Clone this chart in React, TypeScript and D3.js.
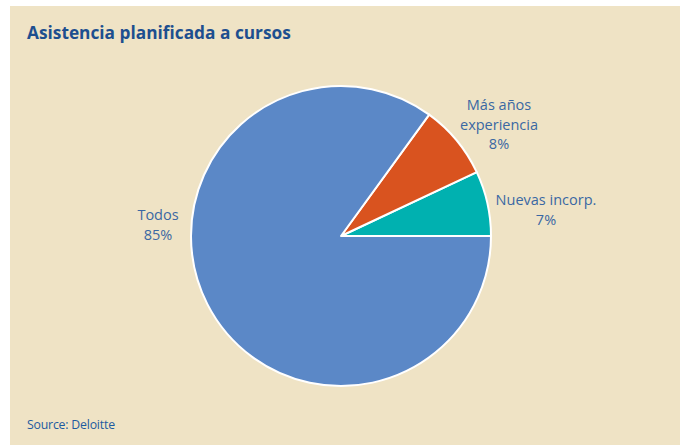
import React from 'react';
import * as d3 from 'd3';

const categories = ['Nuevas incorp.', 'Más años experiencia', 'Todos'];
const values = [7, 8, 85];
const colors = ['#00b1b0', '#d9531f', '#5b88c7'];
const labelLines = [['Nuevas incorp.', '7%'], ['Más años', 'experiencia', '8%'], ['Todos', '85%']];
const labelPos = [[546, 205], [499, 110], [158, 220]];

const W = 680;
const H = 445;
const cx = 341;
const cy = 236;
const radius = 150;

const App = () => {
  const pie = d3.pie<number>()
    .sort(null)
    .startAngle(Math.PI / 2)
    .endAngle(Math.PI / 2 - 2 * Math.PI);
  const arcs = pie(values);
  const arc = d3.arc<d3.PieArcDatum<number>>().innerRadius(0).outerRadius(radius);

  return (
    <svg width={W} height={H} style={{ position: 'absolute', left: 0, top: 0 }}>
      <rect x={10} y={6} width={W - 10} height={H - 6} fill="#efe3c5" />
      <text x={27} y={39} fill="#1d4f8f" fontFamily="'Open Sans', sans-serif" fontWeight="bold" fontSize={17.3}>
        Asistencia planificada a cursos
      </text>
      <g transform={`translate(${cx},${cy})`}>
        {arcs.map((a, i) => (
          <path key={categories[i]} d={arc(a) || ''} fill={colors[i]} stroke="#ffffff" strokeWidth={2} strokeLinejoin="round" />
        ))}
      </g>
      {labelLines.map((lines, i) => (
        <text key={categories[i]} x={labelPos[i][0]} y={labelPos[i][1]} textAnchor="middle"
          fill="#3a68a3" fontFamily="'Open Sans', sans-serif" fontSize={14.5}>
          {lines.map((l, j) => (
            <tspan key={j} x={labelPos[i][0]} dy={j === 0 ? 0 : 19.5}>{l}</tspan>
          ))}
        </text>
      ))}
      <text x={27} y={429} fill="#1d5aa0" fontFamily="'Open Sans', sans-serif" fontSize={12.3} letterSpacing={-0.2}>
        Source: Deloitte
      </text>
    </svg>
  );
};

export default App;
